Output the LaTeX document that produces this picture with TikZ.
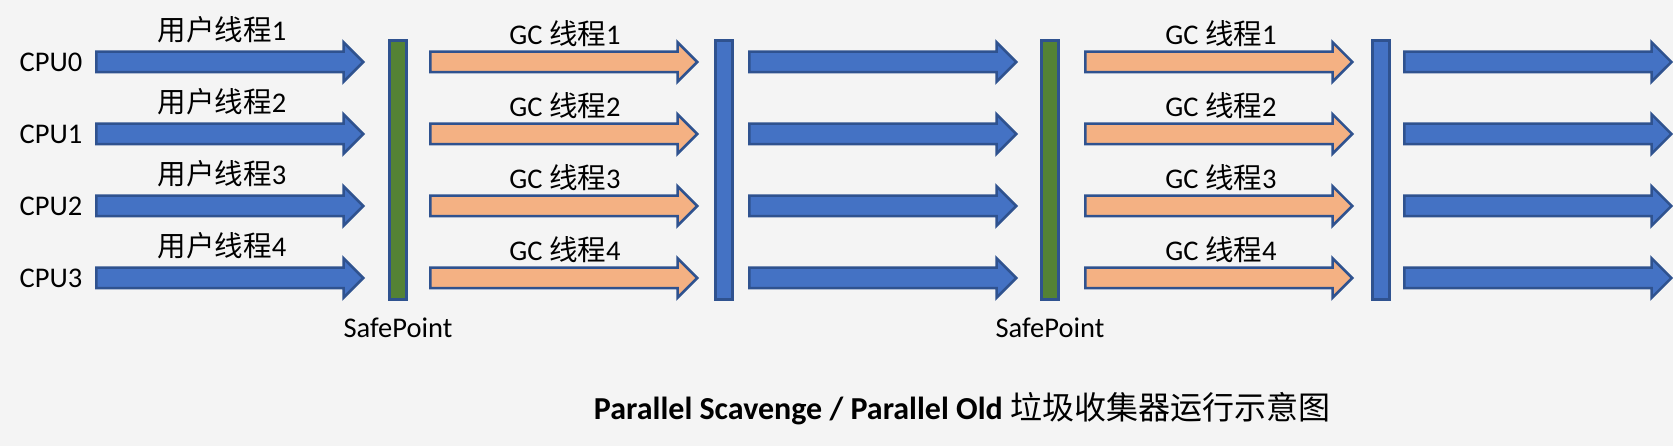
\documentclass[tikz,border=0pt]{standalone}
\usepackage{fontspec}
\setmainfont{Carlito}
\newfontfamily\cjk{Noto Sans CJK SC}
\usepackage{tikz}
\usetikzlibrary{shapes.arrows,positioning}
\definecolor{blockblue}{HTML}{4472C4}
\definecolor{edgeblue}{HTML}{2F528F}
\definecolor{gcorange}{HTML}{F4B183}
\definecolor{spgreen}{HTML}{548235}
\definecolor{bggray}{HTML}{F4F4F4}
\tikzset{
    thread/.style ={single arrow, draw=edgeblue, line width=2.5pt, anchor=tail,
        inner xsep=0pt, inner ysep=9pt, minimum height=267pt,
        single arrow head extend=9.5pt, single arrow tip angle=90},
    user/.style = {thread, fill=blockblue},
    gc/.style = {thread, fill=gcorange},
    bar/.style = {rectangle, draw=edgeblue, line width=2.5pt, inner sep=0pt,
        minimum width=17pt, minimum height=259pt},
    safe/.style = {bar, fill=spgreen},
    sync/.style = {bar, fill=blockblue},
    lbl/.style = {inner sep=0pt, font=\fontsize{28.5}{31}\selectfont}
}

\begin{document}
\begin{tikzpicture}[x=1pt,y=-1pt]
            \fill[bggray] (0,0) rectangle (1673,446);
            \useasboundingbox (0,0) rectangle (1673,446);
            % Stop-the-world bars
            \node[safe] (sp1) at (398,170) {};
            \node[sync] (sy1) at (724,170) {};
            \node[safe] (sp2) at (1050,170) {};
            \node[sync] (sy2) at (1381,170) {};
            % One row of threads per CPU
            \foreach \cpu/\y in {0/62,1/134,2/206,3/278}{
                \pgfmathtruncatemacro\n{\cpu+1}
                \node[lbl] (cpu\cpu) at (51,\y) {CPU\cpu};
                \node[user] (ua\cpu) at (95,\y) {};
                \node[gc] (ga\cpu) at (429,\y) {};
                \node[user] (ub\cpu) at (748,\y) {};
                \node[gc] (gb\cpu) at (1084,\y) {};
                \node[user] (uc\cpu) at (1403,\y) {};
                % Label the threads
                \node[lbl] at (222,\y-32) {{\cjk 用户线程}\n};
                \node[lbl] at (565,\y-28) {GC {\cjk 线程}\n};
                \node[lbl] at (1221,\y-28) {GC {\cjk 线程}\n};
            }
            % Label the safepoints
            \node[lbl] [below=17pt of sp1] {SafePoint};
            \node[lbl] [below=17pt of sp2] {SafePoint};
            \node[font=\fontsize{32}{36}\selectfont] (title) at (962,409)
                {\bfseries Parallel Scavenge / Parallel Old {\cjk\mdseries 垃圾收集器运行示意图}};
        \end{tikzpicture}
\end{document}
